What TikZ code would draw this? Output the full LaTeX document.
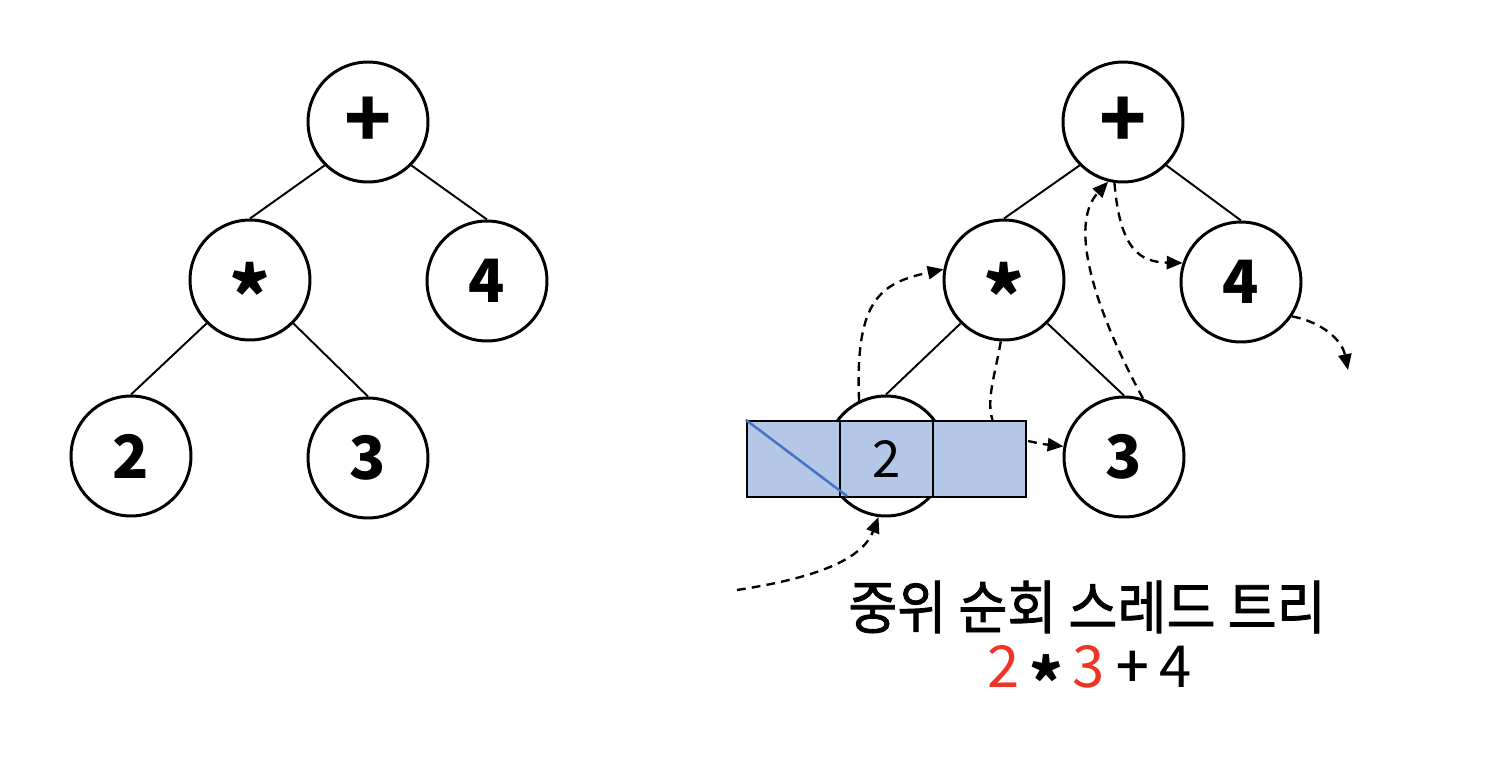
\documentclass[tikz,border=0pt]{standalone}
\usepackage{fontspec}
\setmainfont{Noto Sans CJK KR}
\newfontfamily\krmed[FakeBold=1.4]{Noto Sans CJK KR}
\usetikzlibrary{arrows.meta,calc}
\definecolor{boxfill}{HTML}{B4C7E7}
\definecolor{diagblue}{HTML}{4472C4}
\definecolor{txtred}{HTML}{EE3524}
\newcommand{\treestar}{\raisebox{-0.76em}[0pt][0pt]{\scalebox{1.3}{*}}}
\begin{document}
\begin{tikzpicture}[x=0.02cm,y=-0.02cm,
  tnode/.style={circle,draw=black,line width=1.7pt,fill=white,minimum size=2.4cm,inner sep=0pt,font=\fontsize{34}{34}\selectfont\bfseries},
  tedge/.style={line width=1.1pt},
  cell/.style={rectangle,draw=black,line width=1.3pt,fill=boxfill,minimum width=1.86cm,minimum height=1.52cm,inner sep=0pt,font=\fontsize{29}{29}\selectfont},
  thread/.style={line width=1.35pt,dash pattern=on 5pt off 3.5pt},
  tharrow/.style={thread,-{Triangle[length=9pt,width=7.5pt]}}]
\useasboundingbox (0,0) rectangle (1488,772);
% left tree
\node[tnode] (lp) at (368,122) {\scalebox{1.3}{+}};
\node[tnode] (lm) at (250,280) {\treestar};
\node[tnode] (l4) at (487,281) {4};
\node[tnode] (l2) at (131,456) {2};
\node[tnode] (l3) at (368,458) {3};
\draw[tedge] (lp.225) -- (lm.north);
\draw[tedge] (lp.315) -- (l4.north);
\draw[tedge] (lm.225) -- (l2.north);
\draw[tedge] (lm.315) -- (l3.north);
% right tree
\node[tnode] (rp) at (1123,122) {\scalebox{1.3}{+}};
\node[tnode] (rm) at (1004,280) {\treestar};
\node[tnode] (r4) at (1241,282) {4};
\node[tnode] (r2) at (886,456) {};
\node[tnode] (r3) at (1124,457) {3};
\draw[tedge] (rp.225) -- (rm.north);
\draw[tedge] (rp.315) -- (r4.north);
\draw[tedge] (rm.225) -- (r2.north);
\draw[tedge] (rm.315) -- (r3.north);
% box
\node[cell] (cl) at (793.5,459) {};
\node[cell] (cm) at (886.5,459) {2};
\node[cell] (cr) at (979.5,459) {};
\draw[diagblue,line width=1.4pt] (cl.north west) -- ($(cl.south east)+(6,-2)$);
% threads
\coordinate (s1) at (737,590);
\coordinate (e7) at (1348,370);
\draw[tharrow] (s1) .. controls (815,578) and (862,560) .. (r2.263);
\draw[tharrow] (r2.116) .. controls (855,300) and (880,283) .. (rm.170);
\draw[thread] (rm.267) .. controls (995,375) and (986,400) .. ($(cr.north)+(13,0)$);
\draw[tharrow] ($(cr.east)+(1,-18)$) .. controls (1042,444) .. (r3.170);
\draw[tharrow] (r3.72) .. controls (1095,310) and (1068,225) .. (rp.256);
\draw[tharrow] (rp.262) .. controls (1120,250) and (1140,262) .. (r4.162);
\draw[tharrow] (r4.326) .. controls (1322,322) and (1342,340) .. (e7);
% caption
\node[font=\fontsize{33}{33}\selectfont\krmed] (title) at (1087,607) {\scalebox{0.92}[1]{중위 순회 스레드 트리}};
\node[font=\fontsize{33}{33}\selectfont] (expr) at (1090,676) {\textcolor{txtred}{2}\kern0.16em\raisebox{-0.34em}{\bfseries\scalebox{1.1}{*}}\kern0.16em\textcolor{txtred}{3}\kern0.2em{\krmed+}\kern0.2em4};
\end{tikzpicture}
\end{document}
